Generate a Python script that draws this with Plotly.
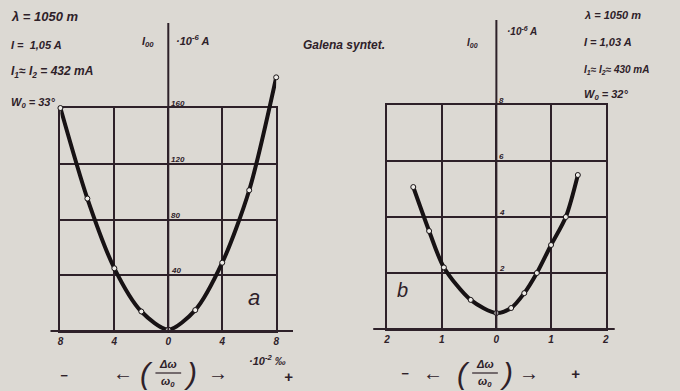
import plotly.graph_objects as go

# ---- data ----
a_x = [-8, -6, -4, -2, 0, 2, 4, 6, 8]
a_y = [160, 95, 45, 14, 1, 15, 49, 101, 182]
a_xticks = [-8, -4, 0, 4, 8]
a_xticktext = ["8", "4", "0", "4", "8"]
a_yticks = [40, 80, 120, 160]

b_x = [-1.52, -1.23, -0.96, -0.47, 0, 0.27, 0.51, 0.74, 1.0, 1.27, 1.49]
b_y = [5.07, 3.5, 2.2, 1.04, 0.57, 0.75, 1.28, 2.0, 3.0, 4.0, 5.5]
b_xticks = [-2, -1, 0, 1, 2]
b_xticktext = ["2", "1", "0", "1", "2"]
b_yticks = [2, 4, 6, 8]

BG = "#dcd9d3"
INK = "#2e2129"
CURVE = "#171214"
FONT = "Liberation Sans"

W, H = 680, 391


def px(x):
    return x / W


def py(y):
    return 1 - y / H


# panel a grid box: y=0 at 331px, y=160 at 108px
A_BOT, A_TOP = 331, 108
A_LEFT, A_RIGHT = 57, 275
A_SCALE = (A_BOT - A_TOP) / 160.0
A_EXT = 200  # extended (invisible) range so the curve can rise above the grid

fig = go.Figure()

marker = dict(size=5, color="#eeece8", line=dict(color=CURVE, width=1))
fig.add_trace(go.Scatter(x=a_x, y=a_y, xaxis="x3", yaxis="y3", mode="lines+markers",
                         line=dict(color=CURVE, width=4, shape="spline", smoothing=0.8),
                         marker=marker, cliponaxis=False, showlegend=False))
fig.add_trace(go.Scatter(x=b_x, y=b_y, xaxis="x2", yaxis="y2", mode="lines+markers",
                         line=dict(color=CURVE, width=4, shape="spline", smoothing=0.8),
                         marker=marker, cliponaxis=False, showlegend=False))

tickfont = dict(family=FONT, size=10, color=INK, style="italic", weight="bold")


def xaxis(domain, rng, vals, text, anchor):
    return dict(domain=domain, range=rng, anchor=anchor, tickvals=vals, ticktext=text,
                showgrid=True, gridcolor=INK, gridwidth=1.6, showline=True, mirror=True,
                linecolor=INK, linewidth=1.6, zeroline=False, ticks="", tickfont=tickfont,
                fixedrange=True)


def yaxis(domain, rng, vals, anchor):
    return dict(domain=domain, range=rng, anchor=anchor, tickvals=vals,
                showgrid=True, gridcolor=INK, gridwidth=1.6, showline=True, mirror=True,
                linecolor=INK, linewidth=1.6, zeroline=False, ticks="", showticklabels=False,
                fixedrange=True)


fig.update_layout(
    width=W, height=H, margin=dict(l=0, r=0, t=0, b=0),
    paper_bgcolor=BG, plot_bgcolor="rgba(0,0,0,0)",
    xaxis=xaxis([px(A_LEFT), px(A_RIGHT)], [-8, 8], a_xticks, a_xticktext, "y"),
    yaxis=yaxis([py(A_BOT), py(A_TOP)], [0, 160], a_yticks, "x"),
    # invisible twin axes with the same scale but a taller box for curve a
    xaxis3=dict(domain=[px(A_LEFT), px(A_RIGHT)], range=[-8, 8], anchor="y3",
                visible=False, showgrid=False, zeroline=False, fixedrange=True),
    yaxis3=dict(domain=[py(A_BOT), py(A_BOT - A_EXT * A_SCALE)], range=[0, A_EXT],
                anchor="x3", visible=False, showgrid=False, zeroline=False, fixedrange=True),
    xaxis2=xaxis([px(387), px(608)], [-2, 2], b_xticks, b_xticktext, "y2"),
    yaxis2=yaxis([py(329), py(105)], [0, 8], b_yticks, "x2"),
)

# axis extensions (baseline and vertical ordinate axis)
shapes = []
for xr, yr, x0, x1, ytop in [("x domain", "y domain", -0.046, 1.078, 1.381),
                             ("x2 domain", "y2 domain", -0.063, 1.041, 1.379)]:
    shapes.append(dict(type="line", xref=xr, yref=yr, x0=x0, x1=x1, y0=0, y1=0,
                       line=dict(color=INK, width=2)))
    shapes.append(dict(type="line", xref=xr, yref=yr, x0=0.5, x1=0.5, y0=0, y1=ytop,
                       line=dict(color=INK, width=2)))

ann = []
# y tick labels along the central axis
small = dict(family=FONT, size=8, color=INK, style="italic", weight="bold")
for v in a_yticks:
    ann.append(dict(x=0, y=v, xref="x", yref="y", text=str(v), showarrow=False,
                    xanchor="left", yanchor="bottom", xshift=1, yshift=-2, font=small))
for v in b_yticks:
    ann.append(dict(x=0, y=v, xref="x2", yref="y2", text=str(v), showarrow=False,
                    xanchor="left", yanchor="bottom", xshift=1, yshift=-2, font=small))

hand = dict(family=FONT, size=11, color=INK, style="italic", weight="bold")


def txt(x, y, t, size=11, xanchor="left", bold=True):
    f = dict(hand)
    f["size"] = size
    if not bold:
        f["weight"] = "normal"
    ann.append(dict(x=px(x), y=py(y), xref="paper", yref="paper", text=t, showarrow=False,
                    xanchor=xanchor, yanchor="middle", font=f))


# left parameter block
txt(5, 17, "λ = 1050 m", 13)
txt(5, 45, "I =  1,05 A", 11)
txt(5, 72, "I<sub>1</sub>≈ I<sub>2</sub> = 432 mA", 12)
txt(5, 103, "W<sub>0</sub> = 33°", 11)
# panel a ordinate label
txt(137, 42, "I<sub>00</sub>", 11)
txt(172, 40, "·10<sup>-6</sup> A", 11)
txt(300, 45, "Galena syntet.", 12)
# panel b ordinate label
txt(466, 43, "I<sub>00</sub>", 10)
txt(506, 31, "·10<sup>-6</sup> A", 10)
# right parameter block
txt(584, 15, "λ = 1050 m", 11)
txt(584, 42, "I = 1,03 A", 11)
txt(584, 70, "I<sub>1</sub>≈ I<sub>2</sub>≈ 430 mA", 10)
txt(584, 95, "W<sub>0</sub> = 32°", 11)

# panel letters
txt(253, 297, "a", 22, "center", bold=False)
txt(403, 290, "b", 20, "center", bold=False)


# x-axis descriptions with stacked fraction (Δω / ω0)
def frac_label(xc, y):
    txt(xc - 22, y, "(", 30, "center", bold=False)
    txt(xc + 22, y, ")", 30, "center", bold=False)
    txt(xc, y - 9, "Δω", 11, "center")
    txt(xc, y + 9, "ω<sub>0</sub>", 11, "center")
    shapes.append(dict(type="line", xref="paper", yref="paper",
                       x0=px(xc - 13), x1=px(xc + 13), y0=py(y), y1=py(y),
                       line=dict(color=INK, width=1.2)))


txt(61, 375, "−", 13, "center")
txt(120, 373, "←", 20, "center")
frac_label(166, 373)
txt(216, 373, "→", 20, "center")
txt(287, 376, "+", 15, "center")
txt(266, 360, "·10<sup>-2</sup> ‰", 11, "center")

txt(405, 373, "−", 13, "center")
txt(433, 373, "←", 20, "center")
frac_label(486, 373)
txt(530, 373, "→", 20, "center")
txt(577, 373, "+", 15, "center")

fig.update_layout(annotations=ann, shapes=shapes)

fig.write_html(
    "out.html",
    config={"displayModeBar": False},
    post_script="document.body.style.margin='0';document.body.style.padding='0';"
                "document.body.style.overflow='hidden';",
)
